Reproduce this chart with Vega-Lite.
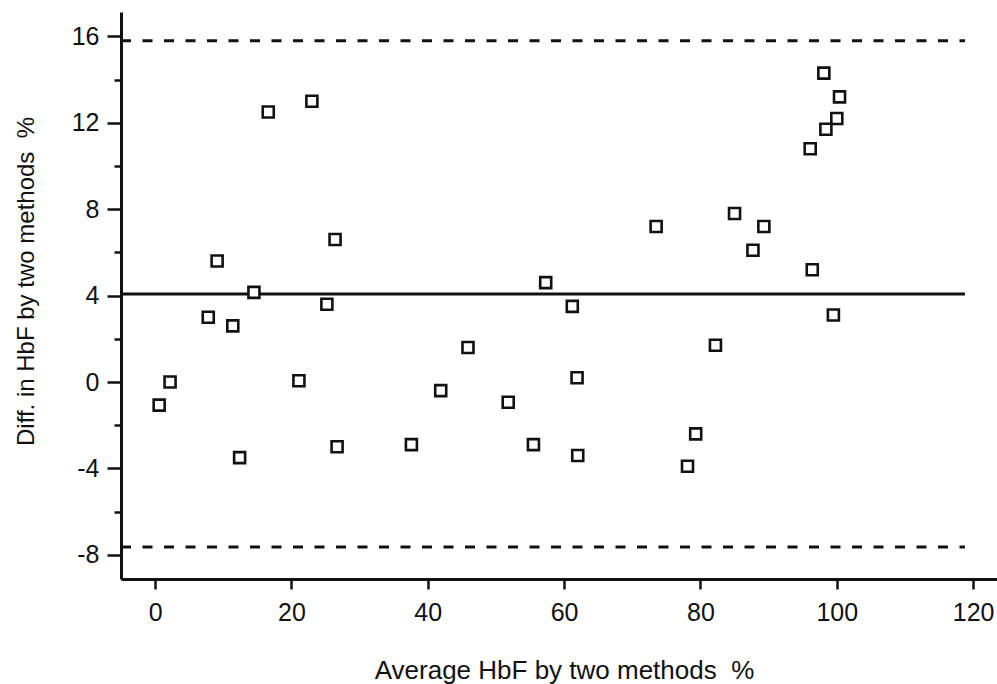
{
  "$schema": "https://vega.github.io/schema/vega-lite/v6.json",
  "width": 876,
  "height": 567,
  "autosize": {"type": "none"},
  "padding": {"left": 121, "top": 12, "right": 0, "bottom": 105},
  "background": "white",
  "config": {
    "view": {"stroke": null},
    "font": "Liberation Sans",
    "axis": {
      "domainColor": "#111",
      "domainWidth": 3,
      "tickColor": "#111",
      "tickWidth": 2.5,
      "labelColor": "#111",
      "titleColor": "#111",
      "grid": false,
      "labelFont": "Liberation Sans",
      "titleFont": "Liberation Sans",
      "titleFontWeight": "normal"
    }
  },
  "layer": [
    {
      "data": {
        "values": [
          {"y": 15.8, "x1": -5, "x2": 118.8, "kind": "limit"},
          {"y": -7.64, "x1": -5, "x2": 118.8, "kind": "limit"},
          {"y": 4.07, "x1": -5, "x2": 118.8, "kind": "mean"}
        ]
      },
      "mark": {"type": "rule", "strokeWidth": 3, "color": "#111"},
      "encoding": {
        "x": {"field": "x1", "type": "quantitative", "scale": {"domain": [-5, 123.5], "nice": false, "zero": false}},
        "x2": {"field": "x2"},
        "y": {"field": "y", "type": "quantitative", "scale": {"domain": [-9.12, 17.13], "nice": false, "zero": false}},
        "strokeDash": {
          "field": "kind",
          "type": "nominal",
          "scale": {"domain": ["mean", "limit"], "range": [[1, 0], [10, 11.5]]},
          "legend": null
        }
      }
    },
    {
      "data": {
        "values": [
          {"avg": 16.6, "diff": 12.5},
          {"avg": 23.0, "diff": 13.0},
          {"avg": 26.4, "diff": 6.6},
          {"avg": 9.1, "diff": 5.6},
          {"avg": 14.5, "diff": 4.15},
          {"avg": 25.2, "diff": 3.6},
          {"avg": 7.8, "diff": 3.0},
          {"avg": 11.4, "diff": 2.6},
          {"avg": 2.2, "diff": 0.0},
          {"avg": 21.1, "diff": 0.06},
          {"avg": 0.6, "diff": -1.07},
          {"avg": 26.7, "diff": -3.0},
          {"avg": 12.4, "diff": -3.5},
          {"avg": 57.3, "diff": 4.6},
          {"avg": 61.2, "diff": 3.5},
          {"avg": 45.9, "diff": 1.6},
          {"avg": 61.9, "diff": 0.2},
          {"avg": 41.9, "diff": -0.4},
          {"avg": 51.8, "diff": -0.94},
          {"avg": 37.6, "diff": -2.9},
          {"avg": 55.5, "diff": -2.9},
          {"avg": 62.0, "diff": -3.4},
          {"avg": 73.5, "diff": 7.2},
          {"avg": 85.0, "diff": 7.8},
          {"avg": 89.3, "diff": 7.2},
          {"avg": 87.7, "diff": 6.1},
          {"avg": 96.4, "diff": 5.2},
          {"avg": 99.5, "diff": 3.1},
          {"avg": 82.2, "diff": 1.7},
          {"avg": 79.3, "diff": -2.4},
          {"avg": 78.1, "diff": -3.9},
          {"avg": 98.1, "diff": 14.3},
          {"avg": 100.4, "diff": 13.2},
          {"avg": 100.0, "diff": 12.2},
          {"avg": 98.4, "diff": 11.7},
          {"avg": 96.1, "diff": 10.8}
        ]
      },
      "mark": {"type": "point", "shape": "square", "filled": false, "fill": "white", "fillOpacity": 1, "size": 121, "strokeWidth": 2.6, "stroke": "#111", "opacity": 1},
      "encoding": {
        "x": {
          "field": "avg",
          "type": "quantitative",
          "scale": {"domain": [-5, 123.5], "nice": false, "zero": false},
          "axis": {
            "values": [0, 20, 40, 60, 80, 100, 120],
            "tickSize": 10,
            "labelFontSize": 25,
            "labelPadding": 11,
            "title": "Average HbF by two methods\u00a0\u00a0%",
            "titleFontSize": 26,
            "titleX": 443,
            "titleY": 99,
            "titleBaseline": "alphabetic"
          }
        },
        "y": {
          "field": "diff",
          "type": "quantitative",
          "scale": {"domain": [-9.12, 17.13], "nice": false, "zero": false},
          "axis": {
            "values": [-8, -7, -6, -5, -4, -3, -2, -1, 0, 1, 2, 3, 4, 5, 6, 7, 8, 9, 10, 11, 12, 13, 14, 15, 16],
            "tickSize": {"condition": {"test": "datum.value % 4 === 0", "value": 14}, "value": 7},
            "labelExpr": "datum.value % 4 === 0 ? toString(datum.value) : ''",
            "labelFontSize": 25,
            "labelPadding": 8,
            "labelOverlap": false,
            "title": "Diff. in HbF by two methods\u00a0\u00a0%",
            "titleFontSize": 24,
            "titleX": -88,
            "titleY": 269,
            "titleBaseline": "alphabetic",
            "titleAngle": -90
          }
        }
      }
    }
  ]
}
